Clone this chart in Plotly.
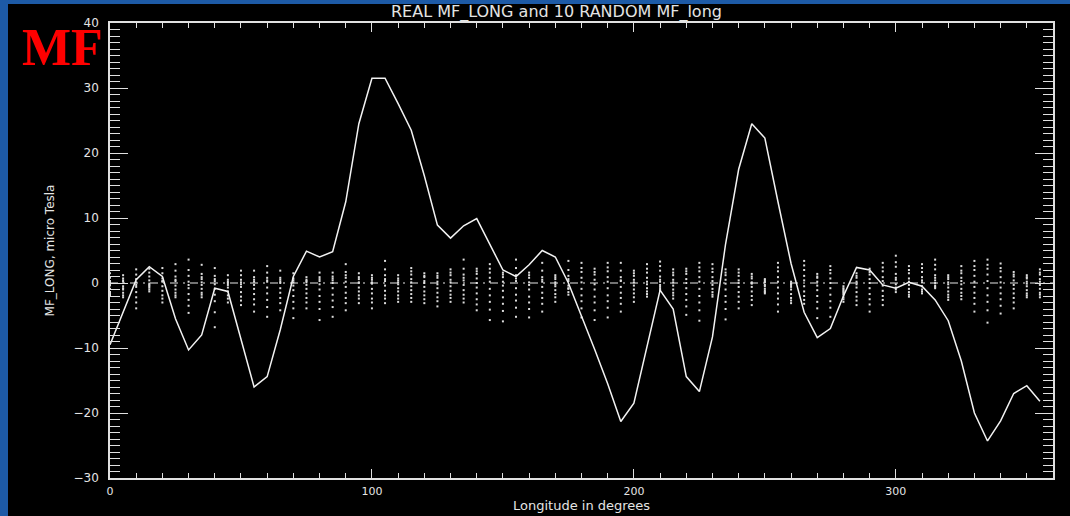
import plotly.graph_objects as go

# ---------------- data ----------------
longitude = [0, 5, 10, 15, 20, 25, 30, 35, 40, 45, 50, 55, 60, 65, 70, 75, 80, 85,
             90, 95, 100, 105, 110, 115, 120, 125, 130, 135, 140, 145, 150, 155, 160, 165,
             170, 175, 180, 185, 190, 195, 200, 205, 210, 215, 220, 225, 230, 235, 240, 245,
             250, 255, 260, 265, 270, 275, 280, 285, 290, 295, 300, 305, 310, 315, 320, 325,
             330, 335, 340, 345, 350, 355]

real_mf_long = [-9.5, -4.5, 0.5, 2.5, 1.0, -5.5, -10.3, -8.0, -0.8, -1.3, -8.5, -16.0,
                -14.4, -7.2, 1.0, 4.9, 4.0, 4.8, 12.5, 24.5, 31.5, 31.5, 27.6, 23.5,
                16.5, 8.9, 6.9, 8.8, 9.9, 6.0, 2.0, 1.0, 2.8, 5.0, 4.0, 0.0,
                -5.0, -10.2, -15.5, -21.3, -18.5, -9.8, -1.1, -4.0, -14.4, -16.7, -8.3, 6.0,
                17.5, 24.5, 22.3, 12.5, 3.0, -4.5, -8.4, -7.0, -2.0, 2.4, 2.0, -0.3,
                -0.8, 0.1, -0.5, -2.6, -5.8, -12.0, -20.0, -24.3, -21.2, -17.0, -15.8, -18.2]

random_1 = [1.5, 1.2, 2.1, 2.2, 2.3, 2.9, 3.6, 2.8, 2.3, 1.2, 1.9, 1.9, 2.6, 1.9, 1.5, 0.9, 1.6, 1.6,
            2.9, 1.5, 1.2, 3.4, 1.2, 2.3, 1.5, 1.5, 2.1, 3.6, 2.2, 2.9, 1.6, 3.6, 1.6, 3.1, 1.2, 3.4,
            3.1, 2.2, 3.1, 3.1, 1.9, 2.9, 3.3, 2.1, 2.2, 3.1, 2.9, 2.1, 2.1, 1.4, 0.6, 3.1, 0.2, 3.4,
            1.4, 2.6, -0.5, 1.5, 2.2, 3.1, 4.2, 2.6, 2.9, 3.6, 1.2, 2.6, 3.4, 3.6, 3.0, 1.7, 1.2, 2.1]
random_2 = [0.8, 0.4, 1.3, 1.0, 1.5, 1.9, 2.0, 1.4, 1.1, 0.5, 1.2, 0.9, 1.6, 0.8, 0.7, 0.3, 0.9, 1.0,
            1.7, 0.6, 0.5, 2.1, 0.4, 1.3, 0.9, 0.8, 1.2, 2.2, 1.4, 1.6, 0.9, 2.3, 0.8, 1.9, 0.6, 2.0,
            1.7, 1.3, 1.8, 1.9, 1.1, 1.6, 1.9, 1.2, 1.4, 1.8, 1.7, 1.2, 1.1, 0.7, 0.2, 1.8, -0.2, 2.0,
            0.8, 1.5, -1.0, 0.8, 1.3, 1.8, 2.5, 1.5, 1.7, 2.1, 0.6, 1.5, 2.0, 2.2, 1.8, 1.0, 0.7, 1.3]
random_3 = [0.3, -0.5, 0.6, 0.4, 0.7, 1.0, 1.1, 0.6, 0.3, 0.0, 0.5, 0.2, 0.8, 0.2, 0.1, -0.3, 0.3, 0.4,
            0.8, 0.1, -0.1, 1.2, -0.2, 0.6, 0.3, 0.2, 0.5, 1.3, 0.7, 0.8, 0.2, 1.2, 0.1, 0.9, 0.1, 1.1,
            0.8, 0.5, 0.9, 0.9, 0.5, 0.8, 1.0, 0.5, 0.6, 0.9, 0.9, 0.5, 0.4, 0.1, -0.3, 0.9, -0.6, 1.1,
            0.2, 0.7, -1.4, 0.2, 0.6, 0.9, 1.4, 0.7, 0.9, 1.2, 0.1, 0.8, 1.1, 1.3, 0.9, 0.4, 0.2, 0.6]
random_4 = [-0.4, -1.0, -0.6, -0.3, -0.5, -0.4, -0.8, -0.3, -0.9, -0.7, -0.6, -0.9, -0.7, -0.8, -1.1, -0.9, -1.0, -0.8,
            -0.6, -0.7, -0.9, -0.4, -0.8, -0.5, -0.6, -0.8, -0.5, -0.3, -0.7, -0.9, -1.2, -0.8, -1.0, -0.6, -0.5, 0.3,
            -0.9, -1.0, -0.8, -0.6, -0.4, -0.2, 0.2, -0.4, -0.8, -0.9, -0.3, -1.0, -0.6, -0.6, -0.5, -0.7, -1.0, -0.5,
            -1.1, -0.8, -1.8, -0.7, -0.8, -0.4, 0.5, -0.3, 0.1, 0.4, -0.7, -0.2, -0.6, -0.8, -0.7, -0.9, -0.5, -0.3]
random_5 = [-0.9, -1.5, -1.4, -0.7, -1.2, -1.0, -1.7, -0.9, -1.8, -1.3, -1.4, -1.7, -1.6, -1.5, -2.0, -1.6, -2.0, -1.8,
            -1.5, -1.3, -1.6, -1.2, -1.3, -1.1, -1.3, -1.5, -1.2, -1.1, -1.6, -1.9, -2.2, -1.8, -2.1, -1.5, -1.1, -0.4,
            -1.9, -2.1, -1.9, -1.5, -1.0, -0.8, -0.3, -1.0, -1.7, -2.0, -0.9, -2.0, -1.4, -1.3, -0.9, -1.6, -1.7, -1.3,
            -2.0, -1.8, -2.2, -1.4, -1.7, -1.2, -0.2, -0.9, -0.5, 0.0, -1.3, -0.9, -1.5, -1.9, -1.6, -1.6, -1.1, -0.9]
random_6 = [-1.4, -1.9, -2.2, -1.0, -1.9, -1.5, -2.6, -1.5, -2.8, -1.9, -2.1, -2.5, -2.6, -2.3, -2.9, -2.3, -2.9, -2.7,
            -2.3, -1.9, -2.4, -1.9, -1.9, -1.7, -1.9, -2.2, -1.8, -1.8, -2.5, -2.9, -3.2, -2.7, -3.0, -2.3, -1.7, -0.9,
            -2.8, -3.0, -2.8, -2.3, -1.6, -1.3, -0.6, -1.5, -2.6, -3.0, -1.4, -2.9, -2.1, -2.0, -1.2, -2.4, -2.3, -2.0,
            -2.9, -2.8, -2.5, -2.1, -2.5, -2.0, -0.7, -1.4, -1.0, -0.4, -1.8, -1.5, -2.3, -2.9, -2.5, -2.3, -1.6, -1.5]
random_7 = [-1.7, -0.8, -3.0, -0.5, -2.4, -1.9, -3.5, -1.8, -4.5, -2.4, -2.7, -3.3, -3.7, -3.1, -3.9, -3.0, -4.0, -3.7,
            -3.1, -2.4, -3.0, -2.4, -2.4, -2.3, -2.5, -2.8, -2.3, -2.4, -3.3, -4.1, -4.3, -3.8, -4.0, -3.2, -2.2, -1.4,
            -3.9, -4.2, -3.8, -3.2, -2.2, -1.7, -0.9, -1.9, -3.6, -4.2, -1.8, -4.0, -2.9, -2.6, -1.4, -3.3, -2.7, -2.6,
            -3.9, -3.8, -0.8, -2.7, -3.3, -2.6, -1.0, -1.8, -1.3, -0.6, -2.2, -2.0, -3.2, -4.2, -3.5, -3.0, -1.9, -1.8]
random_8 = [0.1, 0.2, 0.1, -0.1, 0.2, 0.3, 0.2, 0.1, -0.2, 0.2, 0.1, -0.3, 0.2, 0.0, -0.4, 0.1, -0.2, 0.0,
            0.2, 0.0, 0.1, 0.3, 0.1, 0.1, 0.0, -0.2, 0.1, 0.4, 0.0, 0.2, -0.4, 0.3, -0.3, 0.2, -0.2, 0.6,
            0.1, -0.2, 0.2, 0.3, 0.1, 0.2, 0.5, 0.1, 0.0, 0.2, 0.3, -0.1, 0.0, -0.1, 0.1, 0.2, -0.3, 0.4,
            -0.4, 0.0, -1.2, -0.2, 0.0, 0.3, 0.8, 0.2, 0.4, 0.8, -0.2, 0.3, 0.2, 0.3, 0.1, -0.3, -0.1, 0.2]
random_9 = [-0.2, 0.7, -0.3, 1.6, 0.3, 0.5, -0.3, 0.9, 0.6, -0.3, -0.2, 0.5, 0.4, 0.5, 0.4, 0.5, 0.6, 0.7,
            1.2, 0.9, 0.8, 0.6, 0.7, 1.8, 1.1, 1.1, 1.6, 0.8, 1.8, 2.2, 1.3, 0.7, 1.2, 0.5, 0.9, -0.8,
            2.3, 1.7, 2.4, 0.4, 1.5, 2.2, 2.6, 1.6, 1.8, 2.4, 2.2, 1.6, 1.6, 1.0, 0.4, 2.4, -0.1, 2.7,
            1.0, 2.0, -1.6, 1.1, 1.7, 2.4, 3.2, 2.0, 2.3, 2.8, 0.9, 1.9, 2.6, 2.8, 2.3, 1.3, 0.9, 1.6]
random_10 = [-2.0, -2.2, -3.9, -1.3, -3.0, -2.2, -4.6, -2.2, -6.8, -3.0, -3.4, -4.4, -5.2, -4.2, -5.4, -3.9, -5.7, -5.2,
             -4.2, -3.1, -3.9, -3.1, -2.9, -2.9, -3.1, -3.6, -2.9, -3.0, -4.2, -5.7, -5.9, -5.2, -5.3, -4.4, -2.9, -1.8,
             -5.3, -5.7, -5.3, -4.4, -2.9, -2.1, -1.1, -2.4, -4.9, -5.8, -2.1, -5.6, -3.9, -3.4, -1.6, -4.4, -3.1, -3.2,
             -5.4, -5.2, -2.9, -3.4, -4.4, -3.4, -1.4, -2.1, -1.6, -0.8, -2.6, -2.5, -4.4, -6.1, -4.7, -3.9, -2.2, -2.2]

random_series = [random_1, random_2, random_3, random_4, random_5,
                 random_6, random_7, random_8, random_9, random_10]

for i, s in enumerate(random_series):
    if len(s) != len(longitude):
        raise ValueError(f"random_{i+1} has {len(s)} values, expected {len(longitude)}")
if len(real_mf_long) != len(longitude):
    raise ValueError(f"real has {len(real_mf_long)}")

title_text = "REAL MF_LONG and 10 RANDOM MF_long"
x_title = "Longitude in degrees"
y_title = "MF_LONG, micro Tesla"
x_range = [0, 360]
y_range = [-30, 40]

# ---------------- figure ----------------
fig = go.Figure()

for s in random_series:
    fig.add_trace(go.Scatter(
        x=longitude, y=s, mode="markers",
        marker=dict(symbol="square", size=2, color="#dcdcdc", line=dict(width=0)),
        showlegend=False, hoverinfo="skip"))

# zero reference line (dash-dot)
fig.add_trace(go.Scatter(
    x=x_range, y=[0, 0], mode="lines",
    line=dict(color="#e6e6e6", width=1.2, dash="8px,5px,2px,5px"),
    showlegend=False, hoverinfo="skip"))

fig.add_trace(go.Scatter(
    x=longitude, y=real_mf_long, mode="lines",
    line=dict(color="#f2f2f2", width=1.5),
    showlegend=False))

L, R, T, B = 110, 17, 23, 38
W, H = 1070, 516
pw, ph = W - L - R, H - T - B

def px_x(px):
    return (px - L) / pw

def px_y(py):
    return (H - B - py) / ph

FONT = "DejaVu Sans"
TXT = "#e4e4e4"

axis_common = dict(showgrid=False, zeroline=False, showline=True, linecolor="#e0e0e0",
                   linewidth=1.5, ticks="inside", tickcolor="#e0e0e0", tickwidth=1.2,
                   mirror="allticks", automargin=False)

fig.update_xaxes(range=x_range, tick0=0, dtick=100, ticklen=9, ticklabelstandoff=2,
                 tickfont=dict(family=FONT, size=11, color=TXT),
                 minor=dict(dtick=10, ticklen=5, ticks="inside", tickcolor="#e0e0e0", tickwidth=1.2),
                 **axis_common)
fig.update_yaxes(range=y_range, tick0=-30, dtick=10, ticklen=18, ticklabelstandoff=7,
                 tickfont=dict(family=FONT, size=12, color=TXT),
                 minor=dict(dtick=1, ticklen=10, ticks="inside", tickcolor="#e0e0e0", tickwidth=1.2),
                 title=dict(text=y_title, font=dict(family=FONT, size=12, color=TXT), standoff=16),
                 **axis_common)

fig.update_layout(
    width=W, height=H,
    margin=dict(l=L, r=R, t=T, b=B, autoexpand=False),
    paper_bgcolor="#1d5aa6",
    plot_bgcolor="#000000",
    showlegend=False,
    shapes=[dict(type="rect", xref="paper", yref="paper",
                 x0=px_x(8), x1=px_x(1070), y0=px_y(516), y1=px_y(4),
                 fillcolor="#000000", line=dict(width=0), layer="below")],
    annotations=[
        dict(text=title_text, xref="paper", yref="paper", x=px_x(556), y=px_y(12),
             xanchor="center", yanchor="middle", showarrow=False,
             font=dict(family=FONT, size=16, color=TXT)),
        dict(text=x_title, xref="paper", yref="paper", x=px_x(581), y=px_y(505),
             xanchor="center", yanchor="middle", showarrow=False,
             font=dict(family=FONT, size=13, color=TXT)),
        dict(text="<b>MF</b>", xref="paper", yref="paper", x=px_x(20), y=px_y(47),
             xanchor="left", yanchor="middle", showarrow=False,
             font=dict(family="Liberation Serif", size=52, color="#ff0000")),
    ],
)

fig.write_html("out.html", config={"displayModeBar": False},
               post_script="document.body.style.margin='0';document.body.style.background='#1d5aa6';")
